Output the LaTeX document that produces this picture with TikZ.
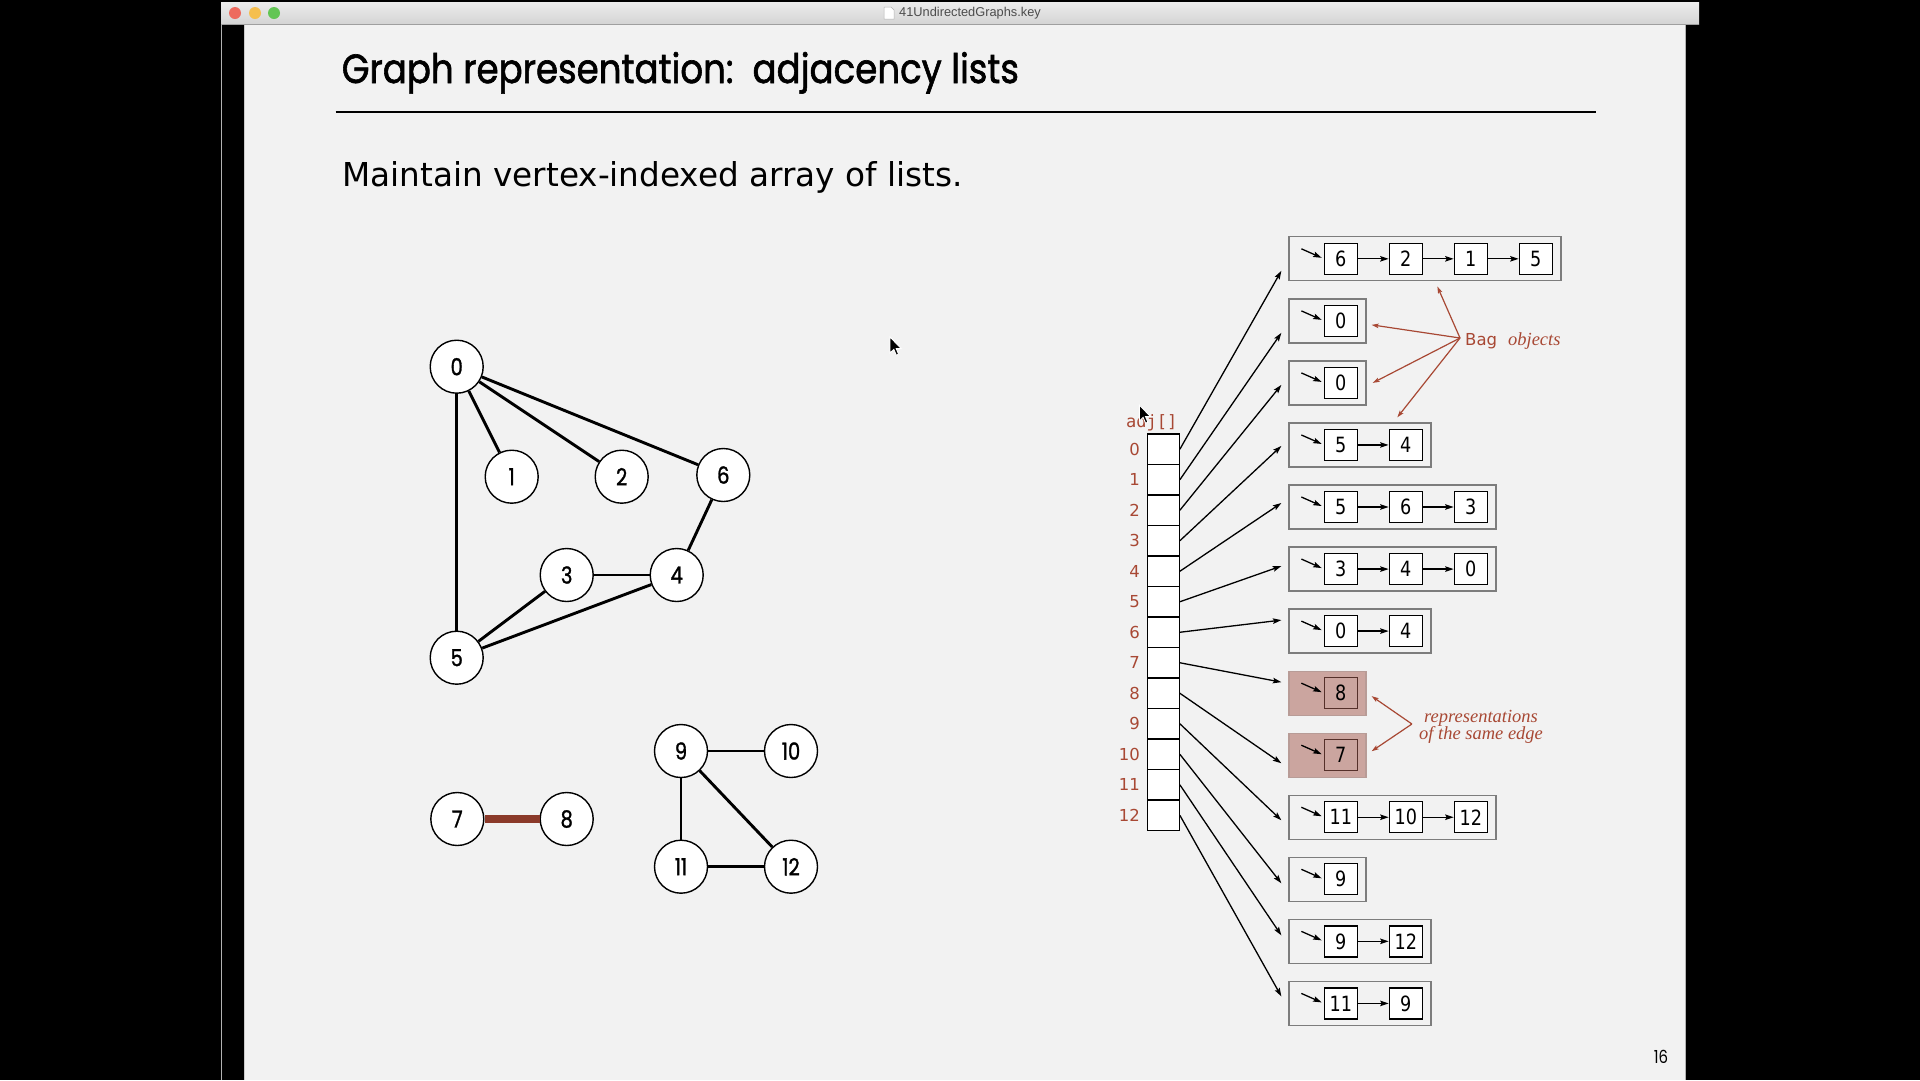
\documentclass[tikz,border=0pt]{standalone}
\usepackage{fontspec}
\usepackage{graphicx}
\usetikzlibrary{arrows.meta,calc}
\setmainfont{DejaVu Sans}
\newfontfamily\futura[FakeStretch=0.83,FakeBold=1.2]{Poppins}
\newfontfamily\pagefont[FakeStretch=0.83]{Poppins}
\newfontfamily\headfont[FakeBold=1.6]{Poppins}
\newfontfamily\lucida{DejaVu Sans}
\newfontfamily\lucidanarrow[FakeStretch=0.84]{DejaVu Sans}
\newfontfamily\lucidamono{DejaVu Sans Mono}
\newfontfamily\bright{Liberation Serif}
\newfontfamily\chrome{Liberation Sans}

\definecolor{slidebg}{RGB}{242,242,242}
\definecolor{rust}{RGB}{168,72,52}
\definecolor{edgebrown}{RGB}{139,58,42}
\definecolor{rosy}{RGB}{203,165,159}
\definecolor{hotline}{RGB}{85,48,42}
\definecolor{baggray}{RGB}{125,125,125}
\definecolor{macred}{RGB}{237,106,94}
\definecolor{macyellow}{RGB}{245,191,79}
\definecolor{macgreen}{RGB}{98,197,84}

\begin{document}
\begin{tikzpicture}[x=1pt,y=-1pt,
  vtx/.style={circle,draw=black,line width=1.4pt,fill=white,minimum size=53pt,inner sep=0pt,
    font=\futura\fontsize{23.5pt}{23.5pt}\selectfont},
  gedge/.style={line width=2.9pt},
  cellbox/.style={rectangle,draw=black,line width=1.3pt,fill=white,minimum width=32pt,
    minimum height=30.5pt,inner sep=0pt},
  idx/.style={anchor=east,inner sep=0pt,text=rust,font=\lucida\fontsize{16.5pt}{16.5pt}\selectfont},
  plainbag/.style={rectangle,draw=baggray,line width=1.3pt,fill=slidebg,minimum height=44pt,inner sep=0pt},
  hotbag/.style={plainbag,fill=rosy,draw=rosy!75!gray},
  listitem/.style={rectangle,draw=black,line width=1.3pt,fill=white,minimum width=33pt,
    minimum height=31pt,inner sep=0pt,font=\lucidanarrow\fontsize{21pt}{21pt}\selectfont},
  hotitem/.style={listitem,fill=none,draw=hotline},
  ptr/.style={line width=1.3pt,-{Stealth[length=8.5pt,width=5.5pt,inset=1.5pt]}},
  notearrow/.style={draw=rust,line width=1.2pt,-{Stealth[length=7pt,width=4.5pt,inset=1.5pt]}},
]
% window frame and slide area
\fill[black] (0,0) rectangle (1920,1080);
\useasboundingbox (0,0) rectangle (1920,1080);
\shade[top color={rgb,255:red,236;green,236;blue,236},bottom color={rgb,255:red,212;green,212;blue,212}]
  (221,2) rectangle (1699,24);
\draw[gray!75,line width=0.8pt] (221,24) -- (1699,24);
\draw[gray!60,line width=1pt] (221.5,24) -- (221.5,1080);
\fill[slidebg] (245,24.5) rectangle (1685,1080);
\draw[gray!40,line width=1pt] (244.5,24.5) -- (244.5,1080);
\draw[gray!60,line width=1pt] (1685.5,24.5) -- (1685.5,1080);
\fill[macred] (235,13) circle[radius=6];
\fill[macyellow] (255,13) circle[radius=6];
\fill[macgreen] (274,13) circle[radius=6];
\filldraw[fill=white,draw=gray!60,line width=0.5pt] (884,7) -- (891,7) -- (894,10) -- (894,19) -- (884,19) -- cycle;
\node[anchor=west,inner sep=0pt,text=black!70,font=\chrome\fontsize{12.8pt}{12.8pt}\selectfont]
  (wintitle) at (899,13.5) {41UndirectedGraphs.key};

% heading
\node[anchor=base west,inner sep=0pt] (title) at (341.6,83)
  {\resizebox{677pt}{31pt}{\headfont Graph representation:\ \ adjacency lists}};
\draw[line width=1.8pt] (335.5,112.3) -- (1595.5,112.3);
\node[anchor=base west,inner sep=0pt] (subtitle) at (342.3,186.7)
  {\resizebox{620pt}{25pt}{\lucida Maintain vertex-indexed array of lists.}};

% the graph
\node[vtx] (v0) at (456.7,366.7) {0};
\node[vtx] (v1) at (511.7,476.7) {1};
\node[vtx] (v2) at (621.7,476.7) {2};
\node[vtx] (v6) at (723.3,475) {6};
\node[vtx] (v3) at (566.7,575) {3};
\node[vtx] (v4) at (676.7,575) {4};
\node[vtx] (v5) at (456.7,657.7) {5};
\node[vtx] (v7) at (457.3,819) {7};
\node[vtx] (v8) at (566.7,819) {8};
\node[vtx] (v9) at (681,751) {9};
\node[vtx] (v10) at (791,751) {10};
\node[vtx] (v11) at (681,866.7) {11};
\node[vtx] (v12) at (791,866.7) {12};
\draw[gedge] (v0) -- (v1);
\draw[gedge] (v0) -- (v2);
\draw[gedge] (v0) -- (v6);
\draw[gedge] (v0) -- (v5);
\draw[gedge] (v6) -- (v4);
\draw[gedge] (v3) -- (v4);
\draw[gedge] (v3) -- (v5);
\draw[gedge] (v4) -- (v5);
\draw[gedge] (v9) -- (v10);
\draw[gedge] (v9) -- (v11);
\draw[gedge] (v9) -- (v12);
\draw[gedge] (v11) -- (v12);
\draw[line width=8pt,edgebrown] (v7) -- (v8);

% the adj[] array
\node[anchor=base west,inner sep=0pt,text=rust,font=\lucidamono\fontsize{17pt}{17pt}\selectfont]
  (adjlab) at (1126,427.7) {adj[]};
\foreach \row in {0,...,12} {
  \node[cellbox] (cell\row) at (1163.2,449.25+30.5*\row) {};
  \node[idx] (lab\row) at (1140,449.25+30.5*\row) {\row};
}

% one Bag per vertex, linked list of neighbours
\foreach \row/\items/\bagsty/\itsty/\dy in {
  0/{6,2,1,5}/plainbag/listitem/12,
  1/{0}/plainbag/listitem/12,
  2/{0}/plainbag/listitem/2,
  3/{5,4}/plainbag/listitem/1,
  4/{5,6,3}/plainbag/listitem/-4,
  5/{3,4,0}/plainbag/listitem/-3,
  6/{0,4}/plainbag/listitem/-11,
  7/{8}/hotbag/hotitem/-11,
  8/{7}/hotbag/hotitem/8,
  9/{11,10,12}/plainbag/listitem/3,
  10/{9}/plainbag/listitem/4,
  11/{9,12}/plainbag/listitem/-6,
  12/{11,9}/plainbag/listitem/-7} {
  \pgfmathsetmacro\cy{258.8+62.05*\row}
  \foreach \val [count=\k] in \items {\xdef\nitems{\k}}
  \pgfmathsetmacro\bw{77+65*(\nitems-1)}
  \node[\bagsty,minimum width=\bw pt] (bag\row) at (1289+\bw/2,\cy) {};
  \foreach \val [count=\k] in \items {
    \node[\itsty] (it\row-\k) at (1340.8+65*\k-65,\cy) {\val};
    \ifnum\k>1
      \pgfmathtruncatemacro\prev{\k-1}
      \draw[ptr] (it\row-\prev.east) -- (it\row-\k.west);
    \fi
  }
  \draw[ptr] ($(bag\row.west)+(13,-10)$) -- ($(it\row-1.west)+(-2,-1)$);
  \draw[ptr] (cell\row.east) -- ($(bag\row.west)+(-7,\dy)$);
}

% annotations
\node[anchor=west,inner sep=0pt,text=rust] (bagnote) at (1465,341)
  {{\lucida\fontsize{16.5pt}{16.5pt}\selectfont Bag}\hspace{11pt}{\bright\itshape\fontsize{18.5pt}{18.5pt}\selectfont objects}};
\coordinate (bagsrc) at ($(bagnote.west)+(-5,-3)$);
\draw[notearrow] (bagsrc) -- ($(bag0.south west)+(149,5)$);
\draw[notearrow] (bagsrc) -- ($(bag1.east)+(5,4)$);
\draw[notearrow] (bagsrc) -- ($(bag2.east)+(6,0)$);
\draw[notearrow] (bagsrc) -- ($(bag3.north west)+(109,-5)$);

\node[align=center,inner sep=0pt,text=rust,font=\bright\itshape\fontsize{18.5pt}{17.5pt}\selectfont]
  (samenote) at (1481,727) {representations\\of the same edge};
\coordinate (samesrc) at ($(samenote.west)+(-7,-3)$);
\draw[notearrow] (samesrc) -- ($(bag7.east)+(5,3)$);
\draw[notearrow] (samesrc) -- ($(bag8.east)+(5,-4)$);

% page number
\node[font=\pagefont\fontsize{18pt}{18pt}\selectfont] (pageno) at (1661,1057) {16};

% mouse pointers
\filldraw[fill=black,draw=white,line width=0.9pt,shift={(890,337)}]
  (0,0) -- (0,16) -- (3.8,12.4) -- (6.3,18.2) -- (8.6,17.2) -- (6.2,11.6) -- (11.3,11.6) -- cycle;
\filldraw[fill=black,draw=white,line width=0.9pt,shift={(1139.3,405)}]
  (0,0) -- (0,16) -- (3.8,12.4) -- (6.3,18.2) -- (8.6,17.2) -- (6.2,11.6) -- (11.3,11.6) -- cycle;
\end{tikzpicture}
\end{document}
